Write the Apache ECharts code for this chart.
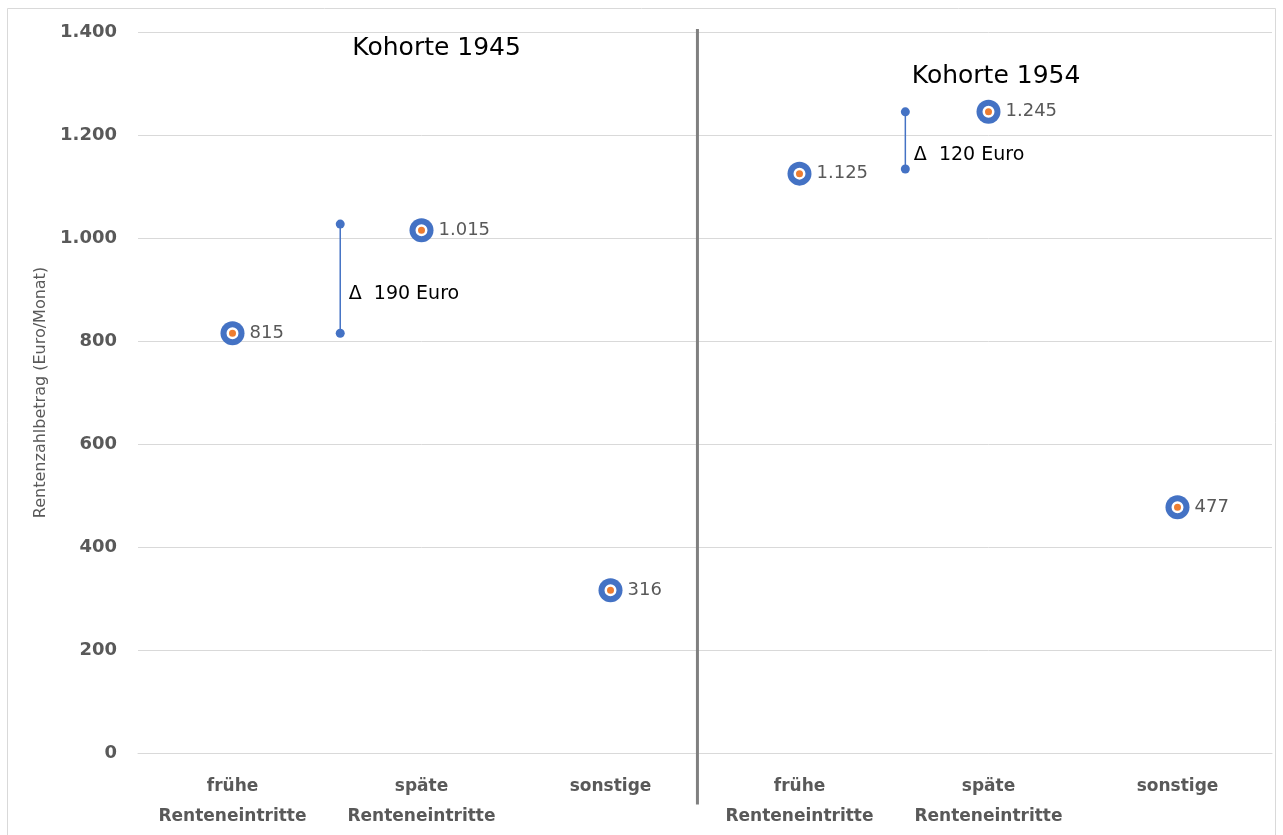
<!DOCTYPE html>
<html><head><meta charset="utf-8">
<script src="https://cdn.jsdelivr.net/npm/echarts@6/dist/echarts.min.js"></script>
<style>html,body{margin:0;padding:0;background:#fff}#c{width:1283px;height:835px}</style>
</head><body><div id="c"></div>
<script>
// Categories (two cohorts, three groups each)
const categories = ['frühe\nRenteneintritte', 'späte\nRenteneintritte', 'sonstige',
                    'frühe\nRenteneintritte', 'späte\nRenteneintritte', 'sonstige'];
// Pension payment amount (Euro/Monat)
const values = [815, 1015, 316, 1125, 1245, 477];
// Y axis range
const yMin = 0, yMax = 1400, yStep = 200;
// Delta connectors: [x position in category units, lower value, upper value]
const deltaLines = [[0.57, 815, 1027], [3.56, 1134, 1245]];
// Delta annotations: [x, y, text]
const deltaLabels = [[0.57, 891, 'Δ  190 Euro'], [3.56, 1161, 'Δ  120 Euro']];
// Cohort titles: [x, y, text]
const cohortTitles = [[1.08, 1367, 'Kohorte 1945'], [4.04, 1313, 'Kohorte 1954']];
// Cohort divider: [x, bottom value, top value]
const divider = [2.46, -100, 1406];

const FONT = 'DejaVu Sans';
const fmt = v => String(v).replace(/\B(?=(\d{3})+(?!\d))/g, '.');

const chart = echarts.init(document.getElementById('c'), null, {renderer: 'canvas'});

const series = [];
// divider
series.push({
  type: 'line', xAxisIndex: 1, yAxisIndex: 0, clip: false, silent: true, symbol: 'none', z: 1,
  lineStyle: {color: '#808080', width: 3},
  data: [[divider[0], divider[1]], [divider[0], divider[2]]]
});
// delta connectors
deltaLines.forEach(d => {
  series.push({
    type: 'line', xAxisIndex: 1, yAxisIndex: 0, clip: false, silent: true,
    symbol: 'circle', symbolSize: 9, z: 3,
    itemStyle: {color: '#4472C4', opacity: 1},
    lineStyle: {color: '#4472C4', width: 1.5},
    data: [[d[0], d[1]], [d[0], d[2]]]
  });
});
// delta labels
series.push({
  type: 'scatter', xAxisIndex: 1, yAxisIndex: 0, silent: true, symbolSize: 1,
  itemStyle: {color: '#ffffff', opacity: 1},
  label: {show: true, position: 'right', distance: 8, fontFamily: FONT, fontSize: 19, color: '#000000',
          formatter: p => p.data[2]},
  data: deltaLabels
});
// cohort titles
series.push({
  type: 'scatter', xAxisIndex: 1, yAxisIndex: 0, silent: true, symbolSize: 1,
  itemStyle: {color: '#ffffff', opacity: 1},
  label: {show: true, position: 'inside', fontFamily: FONT, fontSize: 25, color: '#000000',
          formatter: p => p.data[2]},
  data: cohortTitles
});
// main markers: blue outer
series.push({
  type: 'scatter', xAxisIndex: 0, yAxisIndex: 0, symbol: 'circle', symbolSize: 24, z: 4,
  itemStyle: {color: '#4472C4', opacity: 1},
  label: {show: true, position: 'right', distance: 5, fontFamily: FONT, fontSize: 18, color: '#595959',
          formatter: p => fmt(p.value)},
  data: values
});
// inner orange with white ring
series.push({
  type: 'scatter', xAxisIndex: 0, yAxisIndex: 0, symbol: 'circle', symbolSize: 9.5, z: 5,
  itemStyle: {color: '#ED7D31', borderColor: '#ffffff', borderWidth: 2.5, opacity: 1},
  data: values
});

chart.setOption({
  animation: false,
  backgroundColor: '#ffffff',
  grid: {left: 138, right: 11, top: 32, bottom: 82, containLabel: false},
  graphic: [{
    type: 'rect', silent: true, z: -10,
    shape: {x: 7.5, y: 8.5, width: 1268, height: 830},
    style: {fill: 'none', stroke: '#d9d9d9', lineWidth: 1}
  }],
  xAxis: [{
    type: 'category', data: categories, boundaryGap: true,
    axisLine: {show: true, lineStyle: {color: '#d9d9d9', width: 1}},
    axisTick: {show: false},
    axisLabel: {fontFamily: FONT, fontWeight: 'bold', fontSize: 17, color: '#595959',
                lineHeight: 30, margin: 19, interval: 0}
  }, {
    type: 'value', min: -0.5, max: 5.5, show: false
  }],
  yAxis: [{
    type: 'value', min: yMin, max: yMax, interval: yStep,
    name: 'Rentenzahlbetrag (Euro/Monat)', nameLocation: 'middle', nameGap: 88,
    nameTextStyle: {fontFamily: FONT, fontSize: 16, color: '#595959'},
    axisLine: {show: false}, axisTick: {show: false},
    axisLabel: {fontFamily: FONT, fontWeight: 'bold', fontSize: 18, color: '#595959', margin: 21,
                formatter: v => fmt(v)},
    splitLine: {show: true, lineStyle: {color: '#d9d9d9', width: 1}}
  }],
  series: series
});
</script>
</body></html>
